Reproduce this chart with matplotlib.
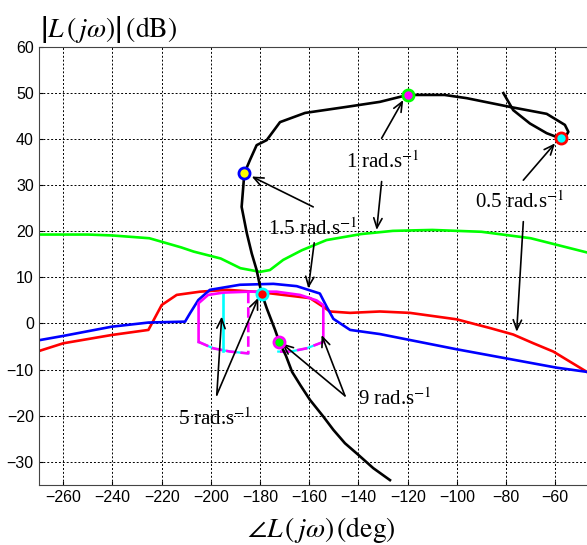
import matplotlib
matplotlib.use('Agg')
import matplotlib.pyplot as plt

plt.rcParams['mathtext.fontset'] = 'stix'

# black Nichols locus of L(jw)
L_phase = [-81.1, -77.1, -70.3, -63.5, -58.1, -56.0, -54.7, -56.1, -63.5, -78.4,
           -96.0, -105.0, -120.0, -131.3, -145.0, -161.7, -171.9, -177.3, -181.4,
           -184.1, -186.4, -187.5, -185.4, -183.4, -181.4, -180.0, -179.2, -177.3,
           -173.9, -172.2, -169.5, -167.0, -163.5, -159.7, -154.3, -150.2, -145.5,
           -140.1, -134.0, -127.2]
L_mag = [50.0, 46.3, 43.4, 41.3, 40.2, 40.4, 41.6, 43.1, 45.5, 47.0,
         48.9, 49.6, 49.6, 48.1, 47.0, 45.7, 43.7, 39.8, 38.7,
         35.5, 32.6, 25.3, 19.6, 15.2, 11.6, 8.0, 6.3, 3.3,
         -1.4, -4.0, -7.0, -10.5, -13.5, -16.6, -20.2, -23.1, -26.0,
         -28.5, -31.4, -34.0]

# green boundary
g_phase = [-270, -250, -240, -225, -212, -207, -196, -188, -180, -176, -170.6,
           -163, -153, -139, -126, -110, -90, -70, -47]
g_mag = [19.3, 19.3, 19.1, 18.5, 16.5, 15.6, 14.1, 12.0, 11.2, 11.6, 13.8,
         15.9, 18.1, 19.4, 20.1, 20.3, 19.9, 18.5, 15.4]

# red boundary
r_phase = [-270, -260, -240.3, -225.4, -220, -213.9, -204.4, -193.4, -180, -159.7,
           -154.3, -151.6, -143.4, -131.3, -119.1, -100.1, -86.5, -77.1, -68.9,
           -60.8, -47.2]
r_mag = [-6.0, -4.3, -2.5, -1.4, 4.0, 6.2, 6.9, 7.3, 6.8, 5.5,
         3.6, 2.6, 2.3, 2.6, 2.3, 0.9, -1.0, -2.4, -4.3,
         -6.1, -10.5]

# blue boundary
b_phase = [-270, -260, -240.3, -225.4, -210.5, -208.5, -205.1, -200.4, -188.2,
           -174.6, -165.1, -155.7, -152.9, -150.2, -143.4, -131.3, -100.1, -59.4, -47.2]
b_mag = [-3.65, -2.7, -0.7, 0.2, 0.4, 2.2, 5.1, 7.3, 8.4,
         8.6, 8.1, 6.5, 3.6, 1.0, -1.4, -2.3, -5.6, -9.6, -10.5]

# magenta template outline
m_top_phase = [-205.0, -205.0, -201.1, -195.0, -184.8, -173.3, -163.8, -157.0, -154.3, -154.3]
m_top_mag = [-4.0, 4.4, 6.2, 6.7, 6.9, 6.9, 6.2, 5.0, 4.0, -4.0]
m_botl_phase = [-205.0, -199.0, -192.2, -184.8, -184.8]
m_botl_mag = [-4.0, -5.4, -6.1, -6.5, 6.9]
m_botr_phase = [-154.3, -161.1, -167.8, -172.6]
m_botr_mag = [-4.0, -5.4, -6.1, -6.1]
c_line_phase = [-195.0, -195.0]
c_line_mag = [6.7, -5.9]

# frequency points: (phase, mag, face, edge)
pts_phase = [-186.4, -120.0, -57.5, -179.2, -172.2]
pts_mag = [32.6, 49.6, 40.2, 6.3, -4.0]
pts_face = ['yellow', 'magenta', 'cyan', 'red', 'lime']
pts_edge = ['blue', 'lime', 'red', 'cyan', 'magenta']

# labels: text, left/baseline position
lab_text = ['1 rad.s$^{-1}$', '1.5 rad.s$^{-1}$', '0.5 rad.s$^{-1}$',
            '9 rad.s$^{-1}$', '5 rad.s$^{-1}$']
lab_x = [-145.1, -176.8, -92.6, -140.1, -213.4]
lab_y = [33.7, 19.2, 25.1, -17.7, -22.0]

# arrows: tail -> head
arr_tail = [(-130.6, 40.2), (-130.6, 30.8), (-158.4, 25.3), (-158.0, 17.5),
            (-73.0, 31.1), (-73.0, 22.1), (-197.6, -15.5), (-197.6, -15.5),
            (-145.5, -15.7), (-145.5, -15.7)]
arr_head = [(-121.8, 48.5), (-132.6, 20.3), (-183.4, 31.9), (-160.4, 7.6),
            (-60.1, 39.1), (-75.7, -1.8), (-195.6, 1.5), (-180.7, 5.6),
            (-171.2, -4.3), (-155.0, -2.5)]

fig = plt.figure(figsize=(5.87, 5.45), dpi=100)
ax = fig.add_axes([0.0659, 0.1106, 0.9639, 0.8031])

ax.plot(g_phase, g_mag, color=(0, 1, 0), lw=1.9)
ax.plot(r_phase, r_mag, color='red', lw=1.9)
ax.plot(b_phase, b_mag, color='blue', lw=1.9)
ax.plot(c_line_phase, c_line_mag, color='cyan', lw=1.9)
ax.plot(m_botl_phase[:-1], m_botl_mag[:-1], color='cyan', lw=1.6)
ax.plot(m_botr_phase, m_botr_mag, color='cyan', lw=1.6)
ax.plot(m_top_phase, m_top_mag, color='magenta', lw=1.9)
ax.plot(m_botl_phase, m_botl_mag, color='magenta', lw=1.9, ls=(0, (4, 1.5)))
ax.plot(m_botr_phase, m_botr_mag, color='magenta', lw=1.9, ls=(0, (4, 2.5)))
ax.plot(L_phase, L_mag, color='black', lw=1.9)

for x, y, fc, ec in zip(pts_phase, pts_mag, pts_face, pts_edge):
    ax.plot(x, y, 'o', ms=8, mfc=fc, mec=ec, mew=2, zorder=5)

for (tx, ty), (hx, hy) in zip(arr_tail, arr_head):
    ax.annotate('', xy=(hx, hy), xytext=(tx, ty),
                arrowprops=dict(arrowstyle='->,head_length=0.7,head_width=0.3',
                                color='black', lw=1.2, shrinkA=0, shrinkB=0))

for t, x, y in zip(lab_text, lab_x, lab_y):
    ax.text(x, y, t, fontsize=15, family='Liberation Serif', va='baseline', ha='left')

ax.set_xlim(-270, -40)
ax.set_ylim(-35, 60)
ax.set_xticks(range(-260, -59, 20))
ax.set_yticks(range(-30, 61, 10))
ax.grid(True, color='black', linestyle=(0, (2, 2)), linewidth=0.7)
ax.tick_params(direction='in', length=3, labelsize=11.5)
for lbl in ax.get_xticklabels() + ax.get_yticklabels():
    lbl.set_family('Liberation Sans')
for s in ax.spines.values():
    s.set_color('#444444')

fig.text(40 / 587, 1 - 45 / 545,
         r'$\left|L\,\left(\,j\omega\right)\right|\,\left(\mathrm{dB}\right)$',
         fontsize=20, ha='left', va='bottom')
fig.text(0.547, 0.028,
         r'$\angle L\,\left(\,j\omega\right)\,\left(\mathrm{deg}\right)$',
         fontsize=20, ha='center', va='center')

fig.savefig('out.png', dpi=100)
